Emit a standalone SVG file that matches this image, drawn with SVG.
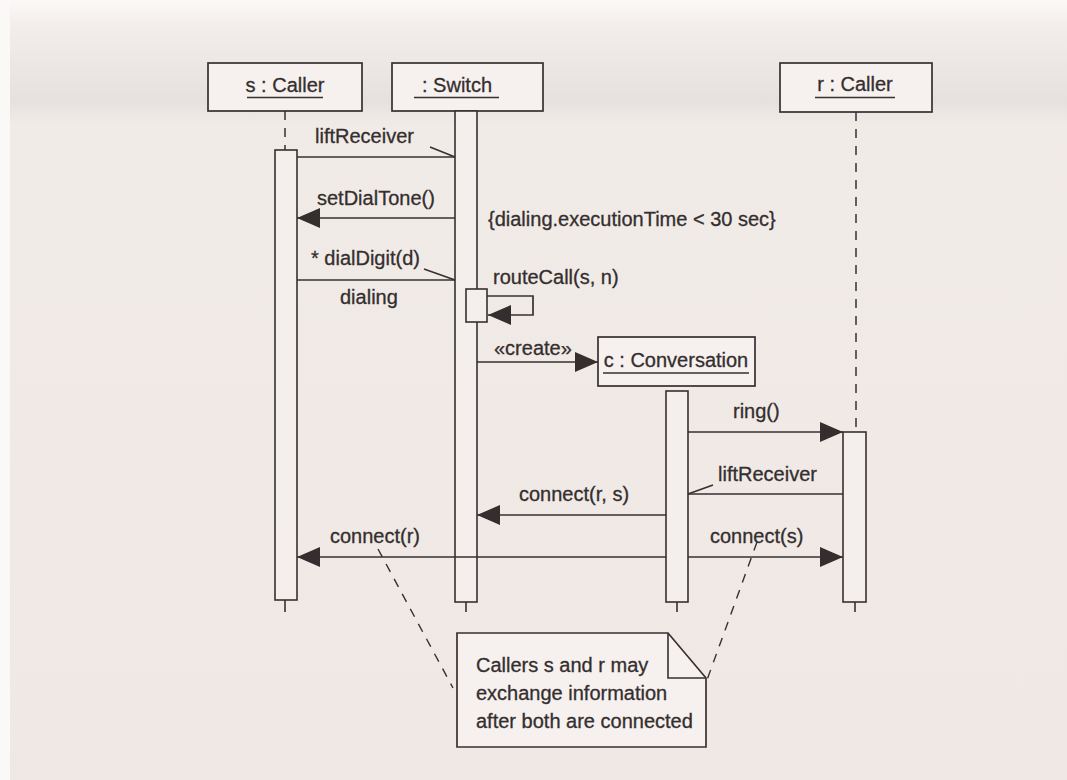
<svg xmlns="http://www.w3.org/2000/svg" width="1067" height="780" viewBox="0 0 1067 780">
  <defs>
    <style>
      .txt { font-family: "Liberation Sans", Arial, sans-serif; font-size: 20px; fill: #342e2e; stroke: #342e2e; stroke-width: 0.3; }
      .box { fill: #f6f1ee; stroke: #363030; stroke-width: 1.7; }
      .act { fill: #f4efec; stroke: #363030; stroke-width: 1.6; }
      .life { stroke: #363030; stroke-width: 1.5; stroke-dasharray: 9 8; fill: none; }
      .tick { stroke: #363030; stroke-width: 1.6; fill: none; }
      .msg { stroke: #363030; stroke-width: 1.7; fill: none; }
      .anchor { stroke: #363030; stroke-width: 1.4; stroke-dasharray: 9 8; fill: none; }
      .ul { stroke: #363030; stroke-width: 1.4; }
    </style>
    <marker id="filled" viewBox="0 0 23 20" refX="23" refY="10" markerWidth="23" markerHeight="20" markerUnits="userSpaceOnUse" orient="auto">
      <path d="M0,0 L23,10 L0,20 z" fill="#342e2e"/>
    </marker>
    <linearGradient id="paper" x1="0" y1="0" x2="0" y2="1">
      <stop offset="0" stop-color="#fbf9f8"/>
      <stop offset="0.03" stop-color="#f3eeeb"/>
      <stop offset="0.13" stop-color="#e6e1df"/>
      <stop offset="0.16" stop-color="#f1ebe8"/>
      <stop offset="1" stop-color="#efe8e4"/>
    </linearGradient>
  </defs>

  <!-- page -->
  <rect x="0" y="0" width="1067" height="780" fill="url(#paper)"/>
  <rect x="0" y="0" width="10" height="780" fill="#fbf9f8"/>

  <!-- lifelines -->
  <g id="lifelines">
    <line class="life" x1="285" y1="111" x2="285" y2="150"/>
    <line class="life" x1="856" y1="112" x2="856" y2="432"/>
    <line class="tick" x1="285" y1="600" x2="285" y2="612"/>
    <line class="tick" x1="466" y1="602" x2="466" y2="612"/>
    <line class="tick" x1="677" y1="602" x2="677" y2="612"/>
    <line class="tick" x1="855" y1="602" x2="855" y2="612"/>
  </g>

  <!-- objects -->
  <g id="s-caller">
    <rect class="box" x="208" y="63" width="154" height="48"/>
    <text class="txt" x="285" y="92" text-anchor="middle">s : Caller</text>
    <line class="ul" x1="247" y1="97.5" x2="323" y2="97.5"/>
    <rect class="act" x="275" y="150" width="22" height="450"/>
  </g>

  <g id="switch">
    <rect class="box" x="392" y="63" width="151" height="48"/>
    <text class="txt" x="457" y="92" text-anchor="middle">: Switch</text>
    <line class="ul" x1="414" y1="97.5" x2="499" y2="97.5"/>
    <rect class="act" x="455" y="111" width="22" height="491"/>
    <rect class="act" x="466" y="289" width="21" height="33"/>
  </g>

  <g id="r-caller">
    <rect class="box" x="780" y="63" width="152" height="49"/>
    <text class="txt" x="855" y="91" text-anchor="middle">r : Caller</text>
    <line class="ul" x1="815" y1="97.5" x2="895" y2="97.5"/>
    <rect class="act" x="843" y="432" width="23" height="170"/>
  </g>

  <g id="conversation">
    <rect class="box" x="598" y="337" width="157" height="49"/>
    <text class="txt" x="676" y="367" text-anchor="middle">c : Conversation</text>
    <line class="ul" x1="603" y1="373" x2="749" y2="373"/>
    <rect class="act" x="666" y="391" width="22" height="211"/>
  </g>

  <g id="note">
    <path class="box" d="M457,633 H668 L706,678 V747 H457 Z"/>
    <path class="tick" d="M668,633 V678 H706"/>
    <text class="txt" x="476" y="672">Callers s and r may</text>
    <text class="txt" x="476" y="700">exchange information</text>
    <text class="txt" x="476" y="728">after both are connected</text>
  </g>

  <!-- messages -->
  <g id="connectors">
    <!-- liftReceiver (s -> switch) -->
    <line class="msg" x1="297" y1="157" x2="455" y2="157"/>
    <line class="msg" x1="430" y1="147" x2="455" y2="157"/>
    <!-- setDialTone() -->
    <line class="msg" x1="455" y1="218" x2="297" y2="218" marker-end="url(#filled)"/>
    <!-- * dialDigit(d) -->
    <line class="msg" x1="297" y1="280" x2="455" y2="280"/>
    <line class="msg" x1="424" y1="269" x2="455" y2="280"/>
    <!-- routeCall(s, n) self call -->
    <path class="msg" d="M487,296 H533 V315 H488" marker-end="url(#filled)"/>
    <!-- create -->
    <line class="msg" x1="477" y1="362" x2="598" y2="362" marker-end="url(#filled)"/>
    <!-- ring() -->
    <line class="msg" x1="688" y1="432" x2="843" y2="432" marker-end="url(#filled)"/>
    <!-- liftReceiver (r -> conversation) -->
    <line class="msg" x1="843" y1="494" x2="688" y2="494"/>
    <line class="msg" x1="713" y1="485" x2="688" y2="494"/>
    <!-- connect(r, s) -->
    <line class="msg" x1="666" y1="515" x2="477" y2="515" marker-end="url(#filled)"/>
    <!-- connect(r) -->
    <line class="msg" x1="666" y1="557" x2="297" y2="557" marker-end="url(#filled)"/>
    <!-- connect(s) -->
    <line class="msg" x1="688" y1="557" x2="843" y2="557" marker-end="url(#filled)"/>
    <!-- note anchors -->
    <line class="anchor" x1="378" y1="549" x2="453" y2="688"/>
    <line class="anchor" x1="757" y1="542" x2="707" y2="680"/>
  </g>

  <!-- message labels -->
  <g id="labels">
    <text class="txt" x="315" y="143">liftReceiver</text>
    <text class="txt" x="317" y="205">setDialTone()</text>
    <text class="txt" x="488" y="226">{dialing.executionTime &lt; 30 sec}</text>
    <text class="txt" x="311" y="265">* dialDigit(d)</text>
    <text class="txt" x="340" y="304">dialing</text>
    <text class="txt" x="493" y="284">routeCall(s, n)</text>
    <text class="txt" x="494" y="355">«create»</text>
    <text class="txt" x="733" y="418">ring()</text>
    <text class="txt" x="718" y="481">liftReceiver</text>
    <text class="txt" x="519" y="501">connect(r, s)</text>
    <text class="txt" x="330" y="543">connect(r)</text>
    <text class="txt" x="710" y="543">connect(s)</text>
  </g>
</svg>
